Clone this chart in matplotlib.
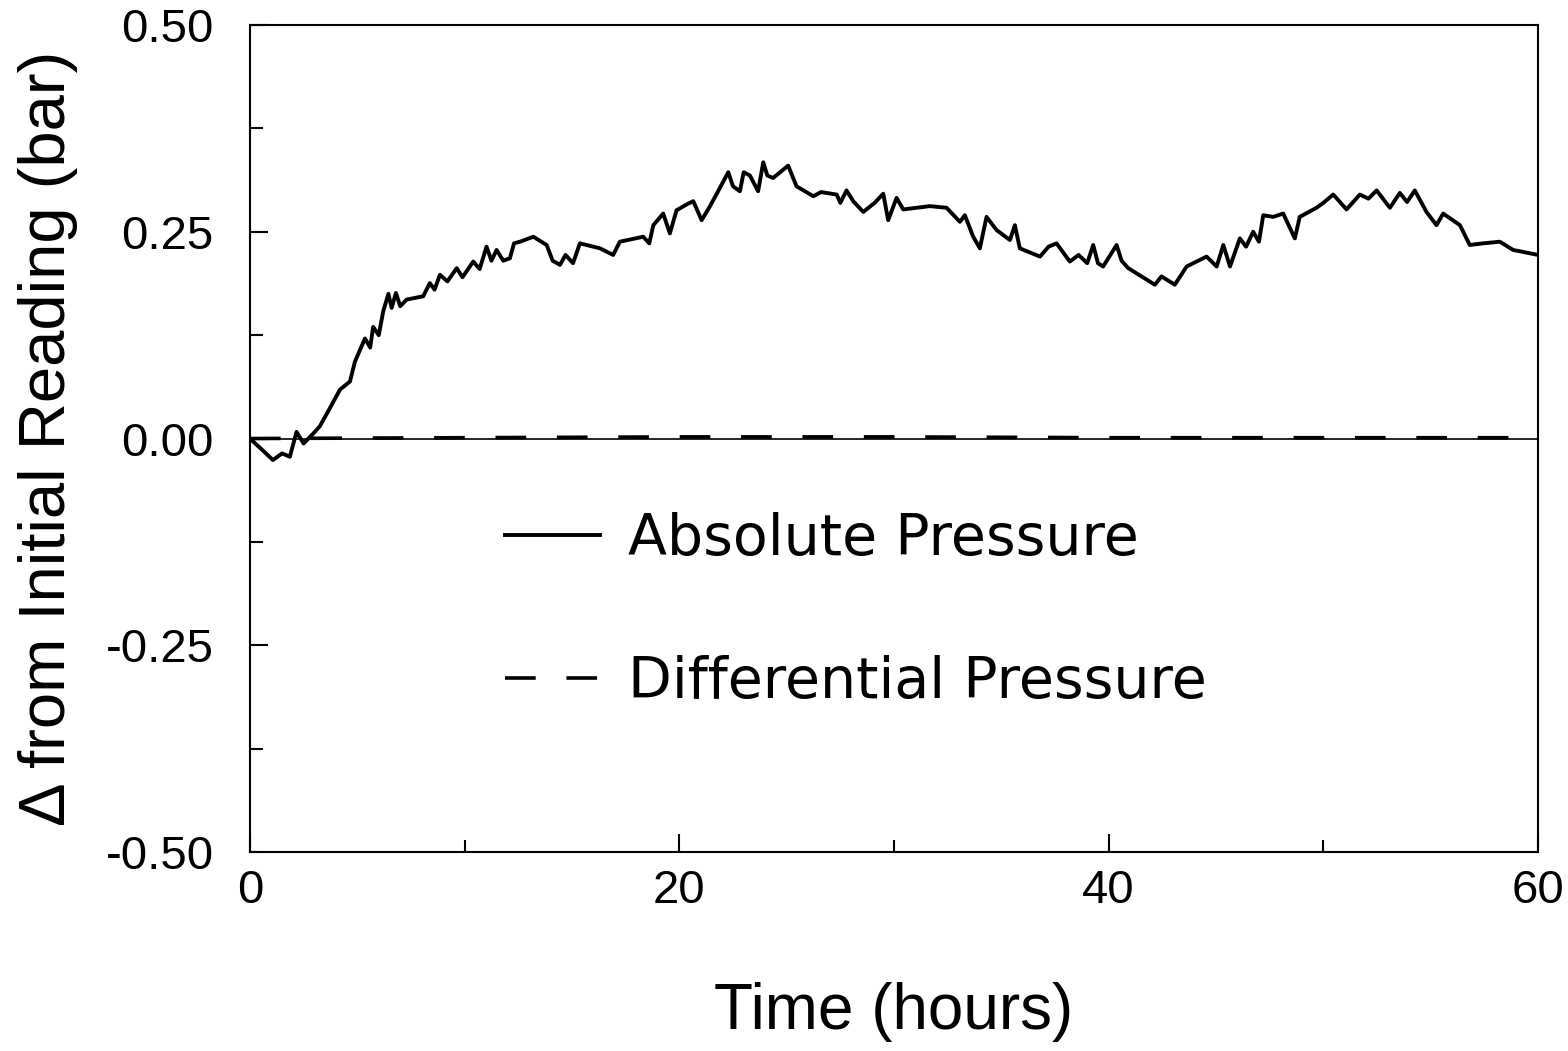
import matplotlib
matplotlib.use("Agg")
import matplotlib.pyplot as plt
from matplotlib.ticker import MultipleLocator

# datos
abs_time = [0.0, 0.5, 1.07, 1.5, 1.86, 2.17, 2.5, 2.95, 3.26, 3.73, 4.19, 4.66, 4.89,
            5.36, 5.6, 5.74, 6.0, 6.21, 6.45, 6.6, 6.8, 7.0, 7.3, 8.07, 8.38, 8.6, 8.85,
            9.2, 9.63, 9.9, 10.4, 10.7, 11.02, 11.25, 11.49, 11.8, 12.11, 12.3, 12.58,
            13.2, 13.82, 14.1, 14.44, 14.7, 15.05, 15.37, 16.3, 16.92, 17.23, 18.32,
            18.6, 18.79, 19.25, 19.56, 19.87, 20.41, 20.65, 21.04, 21.43, 21.89, 22.28,
            22.5, 22.82, 23.0, 23.29, 23.67, 23.91, 24.1, 24.37, 24.7, 25.07, 25.46,
            26.24, 26.6, 27.33, 27.5, 27.79, 28.1, 28.57, 29.1, 29.5, 29.73, 30.12,
            30.43, 31.67, 32.45, 33.07, 33.3, 33.69, 34.0, 34.31, 34.78, 35.4, 35.63,
            35.86, 36.8, 37.2, 37.57, 38.19, 38.6, 39.0, 39.28, 39.5, 39.74, 40.37,
            40.6, 40.91, 42.15, 42.46, 43.08, 43.63, 44.56, 45.03, 45.34, 45.65, 46.11,
            46.4, 46.73, 47.0, 47.2, 47.66, 48.13, 48.67, 48.9, 49.68, 50.0, 50.46,
            51.08, 51.7, 52.1, 52.48, 53.1, 53.56, 53.9, 54.26, 54.8, 55.27, 55.58,
            56.36, 56.82, 57.44, 58.22, 58.84, 60.0]
abs_press = [0.0, -0.012, -0.026, -0.018, -0.022, 0.008, -0.006, 0.006, 0.015, 0.037,
             0.059, 0.069, 0.093, 0.121, 0.11, 0.135, 0.125, 0.154, 0.175, 0.158, 0.176,
             0.16, 0.168, 0.172, 0.188, 0.18, 0.198, 0.19, 0.206, 0.195, 0.214, 0.205,
             0.232, 0.215, 0.228, 0.215, 0.218, 0.236, 0.238, 0.244, 0.234, 0.215, 0.21,
             0.222, 0.212, 0.236, 0.23, 0.222, 0.238, 0.244, 0.236, 0.258, 0.272, 0.248,
             0.276, 0.284, 0.287, 0.264, 0.281, 0.303, 0.322, 0.305, 0.299, 0.322, 0.318,
             0.299, 0.334, 0.318, 0.315, 0.322, 0.33, 0.305, 0.293, 0.298, 0.295, 0.285,
             0.3, 0.287, 0.274, 0.285, 0.296, 0.264, 0.291, 0.277, 0.281, 0.279, 0.262,
             0.27, 0.244, 0.23, 0.268, 0.252, 0.24, 0.258, 0.23, 0.22, 0.232, 0.236,
             0.214, 0.222, 0.212, 0.234, 0.212, 0.208, 0.234, 0.215, 0.206, 0.186, 0.196,
             0.186, 0.208, 0.22, 0.208, 0.234, 0.208, 0.242, 0.232, 0.25, 0.238, 0.27,
             0.268, 0.272, 0.242, 0.268, 0.279, 0.285, 0.295, 0.277, 0.295, 0.29, 0.3,
             0.279, 0.297, 0.286, 0.3, 0.274, 0.258, 0.272, 0.258, 0.234, 0.236, 0.238,
             0.228, 0.222]

diff_time = [0, 10, 20, 30, 40, 50, 60]
diff_press = [0.0, 0.001, 0.002, 0.002, 0.001, 0.001, 0.001]

labels = ["Absolute Pressure", "Differential Pressure"]

fig = plt.figure(figsize=(15.68, 10.51), dpi=100)
ax = fig.add_axes([0.1594, 0.1893, 0.8215, 0.7869])

ax.axhline(0, color="black", lw=1.2)
ax.plot(abs_time, abs_press, color="black", lw=2.8, label=labels[0])
ax.plot(diff_time, diff_press, color="black", lw=2.6, dashes=(8.5, 8.5), label=labels[1])

ax.set_xlim(0, 60)
ax.set_ylim(-0.5, 0.5)
ax.xaxis.set_major_locator(MultipleLocator(20))
ax.xaxis.set_minor_locator(MultipleLocator(10))
ax.yaxis.set_major_locator(MultipleLocator(0.25))
ax.yaxis.set_minor_locator(MultipleLocator(0.125))
ax.set_yticklabels(["%.2f" % v for v in ax.get_yticks()])

fuente = "Liberation Sans"
ax.tick_params(which="both", direction="in", top=False, right=False, width=1.5)
ax.tick_params(which="major", length=13)
ax.tick_params(which="minor", length=9)
ax.tick_params(axis="y", pad=26)
ax.tick_params(axis="x", pad=12)
for lab in ax.get_xticklabels() + ax.get_yticklabels():
    lab.set_fontfamily(fuente)
    lab.set_fontsize(34)
for s in ax.spines.values():
    s.set_linewidth(1.5)

ax.set_xlabel("Time (hours)", fontfamily=fuente, fontsize=46, labelpad=50)
ax.set_ylabel("Δ from Initial Reading (bar)", fontfamily=fuente, fontsize=47, labelpad=20)

ax.legend(loc="upper left", bbox_to_anchor=(505 / 1568, 1 - 512 / 1051),
          bbox_transform=fig.transFigure, frameon=False, prop={"family": "DejaVu Sans", "size": 41},
          handlelength=1.67, handletextpad=0.49, labelspacing=1.54, borderpad=0, borderaxespad=0)

fig.savefig("out.png", dpi=100)
